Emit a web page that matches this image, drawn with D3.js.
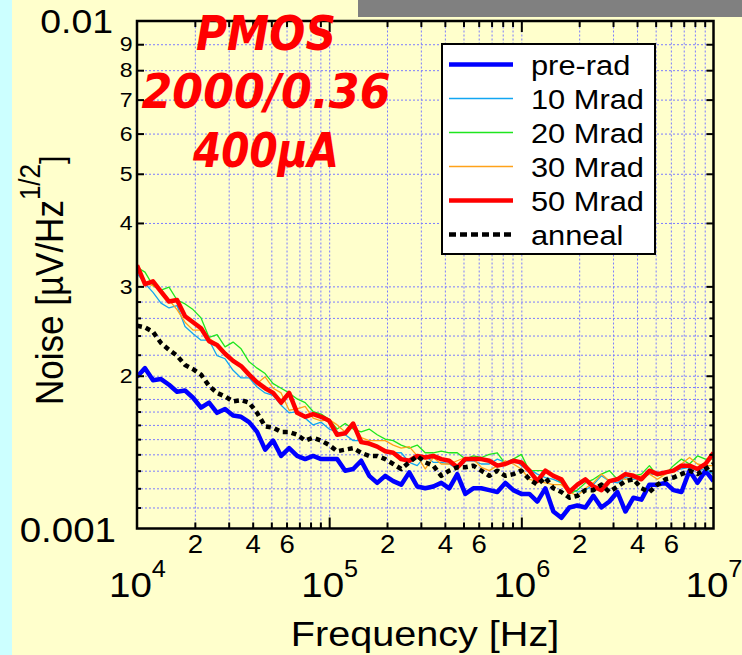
<!DOCTYPE html>
<html>
<head>
<meta charset="utf-8">
<script src="https://cdn.jsdelivr.net/npm/d3@7"></script>
<style>
  body { margin: 0; background: #ffffcc; }
  svg { display: block; font-family: Arial, "Liberation Sans", Helvetica, sans-serif; }
</style>
</head>
<body>
<svg id="chart" width="742" height="655"></svg>
<script>
// Measurement frequencies [Hz]
const frequency = [
  10000, 11007, 12115, 13335, 14678, 16156, 17783, 19573, 21544, 23714, 26102, 28730,
  31623, 34807, 38312, 42170, 46416, 51090, 56234, 61897, 68129, 74989, 82540, 90852,
  100000, 110070, 121150, 133350, 146780, 161560, 177830, 195730, 215440, 237140, 261020, 287300,
  316230, 348070, 383120, 421700, 464160, 510900, 562340, 618970, 681290, 749890, 825400, 908520,
  1000000, 1100700, 1211500, 1333500, 1467800, 1615600, 1778300, 1957300, 2154400, 2371400, 2610200, 2873000,
  3162300, 3480700, 3831200, 4217000, 4641600, 5109000, 5623400, 6189700, 6812900, 7498900, 8254000, 9085200,
  10000000
];

// Input-referred noise for each dose step
const preRad = [
  0.00199,0.00207,0.00196,0.00197,0.00192,0.00186,0.00187,0.00181,0.00173,0.00177,
  0.00169,0.00172,0.00167,0.00166,0.00162,0.00155,0.00143,0.00149,0.00139,0.00144,
  0.00139,0.00137,0.00139,0.00137,0.00137,0.00137,0.00130,0.00131,0.00136,0.00127,
  0.00123,0.00127,0.00124,0.00122,0.00129,0.00121,0.00120,0.00121,0.00123,0.00120,
  0.00128,0.00117,0.00120,0.00120,0.00119,0.00118,0.00123,0.00119,0.00117,0.00117,
  0.00113,0.00120,0.00108,0.00105,0.00110,0.00111,0.00110,0.00116,0.00110,0.00113,
  0.00118,0.00108,0.00115,0.00114,0.00122,0.00122,0.00123,0.00119,0.00118,0.00130,
  0.00123,0.00130,0.00124
];
const mrad10 = [
  0.00318,0.00304,0.00292,0.00278,0.00272,0.00275,0.00250,0.00242,0.00235,0.00235,
  0.00219,0.00216,0.00205,0.00198,0.00198,0.00190,0.00185,0.00183,0.00175,0.00169,
  0.00170,0.00165,0.00160,0.00162,0.00157,0.00155,0.00153,0.00149,0.00149,0.00146,
  0.00145,0.00143,0.00141,0.00141,0.00135,0.00133,0.00139,0.00135,0.00135,0.00134,
  0.00131,0.00136,0.00136,0.00134,0.00134,0.00137,0.00135,0.00137,0.00133,0.00131,
  0.00128,0.00126,0.00125,0.00123,0.00120,0.00118,0.00119,0.00122,0.00127,0.00124,
  0.00123,0.00126,0.00125,0.00126,0.00128,0.00128,0.00129,0.00130,0.00131,0.00132,
  0.00130,0.00131,0.00128
];
const mrad20 = [
  0.00327,0.00320,0.00301,0.00295,0.00299,0.00282,0.00277,0.00270,0.00260,0.00238,
  0.00241,0.00228,0.00233,0.00226,0.00213,0.00207,0.00202,0.00193,0.00189,0.00185,
  0.00180,0.00177,0.00170,0.00168,0.00164,0.00157,0.00161,0.00157,0.00155,0.00157,
  0.00153,0.00150,0.00149,0.00146,0.00144,0.00146,0.00141,0.00141,0.00142,0.00141,
  0.00141,0.00137,0.00139,0.00138,0.00140,0.00141,0.00134,0.00137,0.00140,0.00130,
  0.00130,0.00130,0.00127,0.00123,0.00117,0.00119,0.00123,0.00125,0.00128,0.00130,
  0.00125,0.00127,0.00127,0.00128,0.00133,0.00127,0.00128,0.00133,0.00137,0.00134,
  0.00139,0.00137,0.00137
];
const mrad30 = [
  0.00326,0.00304,0.00301,0.00296,0.00282,0.00270,0.00255,0.00246,0.00246,0.00237,
  0.00231,0.00221,0.00215,0.00209,0.00203,0.00193,0.00199,0.00189,0.00185,0.00171,
  0.00172,0.00174,0.00165,0.00163,0.00164,0.00160,0.00155,0.00160,0.00151,0.00149,
  0.00149,0.00149,0.00146,0.00144,0.00145,0.00139,0.00131,0.00138,0.00134,0.00134,
  0.00136,0.00138,0.00137,0.00132,0.00130,0.00133,0.00136,0.00134,0.00131,0.00125,
  0.00124,0.00123,0.00122,0.00122,0.00118,0.00116,0.00120,0.00123,0.00128,0.00124,
  0.00126,0.00125,0.00126,0.00127,0.00128,0.00125,0.00128,0.00131,0.00134,0.00138,
  0.00134,0.00133,0.00133
];
const mrad50 = [
  0.00330,0.00303,0.00307,0.00293,0.00280,0.00282,0.00262,0.00255,0.00248,0.00234,
  0.00230,0.00221,0.00214,0.00209,0.00201,0.00194,0.00189,0.00185,0.00177,0.00185,
  0.00169,0.00166,0.00168,0.00166,0.00163,0.00153,0.00154,0.00161,0.00148,0.00147,
  0.00145,0.00142,0.00141,0.00137,0.00136,0.00139,0.00138,0.00139,0.00137,0.00136,
  0.00132,0.00137,0.00137,0.00137,0.00136,0.00133,0.00134,0.00136,0.00135,0.00130,
  0.00124,0.00130,0.00127,0.00125,0.00118,0.00122,0.00125,0.00121,0.00119,0.00124,
  0.00125,0.00128,0.00127,0.00125,0.00130,0.00128,0.00129,0.00130,0.00133,0.00133,
  0.00131,0.00134,0.00141
];
const anneal = [
  0.00251,0.00249,0.00244,0.00232,0.00225,0.00219,0.00210,0.00206,0.00201,0.00191,
  0.00185,0.00182,0.00178,0.00179,0.00177,0.00169,0.00159,0.00158,0.00155,0.00155,
  0.00153,0.00149,0.00151,0.00149,0.00146,0.00142,0.00143,0.00144,0.00141,0.00139,
  0.00139,0.00137,0.00134,0.00131,0.00135,0.00139,0.00135,0.00133,0.00127,0.00130,
  0.00132,0.00132,0.00133,0.00130,0.00127,0.00130,0.00127,0.00128,0.00130,0.00125,
  0.00122,0.00126,0.00120,0.00118,0.00115,0.00116,0.00119,0.00119,0.00122,0.00118,
  0.00121,0.00124,0.00125,0.00120,0.00118,0.00122,0.00125,0.00126,0.00128,0.00130,
  0.00128,0.00131,0.00134
];

const seriesNames = ["pre-rad", "10 Mrad", "20 Mrad", "30 Mrad", "50 Mrad", "anneal"];

// Axis ticks and labels
const xDecades = [1e4, 1e5, 1e6, 1e7];
const xDecadeExponents = ["4", "5", "6", "7"];
const xTickMantissas = [2, 3, 4, 5, 6, 7, 8, 9];
const xLabeledMantissas = [2, 4, 6];
const yIntMantissas = [2, 3, 4, 5, 6, 7, 8, 9];
const yFineMantissas = [1.1, 1.2, 1.3, 1.4, 1.5, 1.6, 1.7, 1.8, 1.9, 2.2, 2.4, 2.6, 2.8];
const yEndLabels = ["0.001", "0.01"];
const noteLines = ["PMOS", "2000/0.36", "400µA"];

// ---- drawing ----
const W = 742, H = 655;
const plot = { left: 137, right: 713.5, top: 21, bottom: 528.5 };
const SX = 1.1; // horizontal stretch of the lettering

const series = [
  { name: seriesNames[0], values: preRad, color: "#0000ff", width: 4.5, dash: null },
  { name: seriesNames[1], values: mrad10, color: "#12a6f2", width: 1.3, dash: null },
  { name: seriesNames[2], values: mrad20, color: "#1ee61e", width: 1.3, dash: null },
  { name: seriesNames[3], values: mrad30, color: "#ffa21a", width: 1.3, dash: null },
  { name: seriesNames[4], values: mrad50, color: "#ff0000", width: 4.5, dash: null },
  { name: seriesNames[5], values: anneal, color: "#000000", width: 4.5, dash: "5,4" }
];

const svg = d3.select("#chart");
svg.append("rect").attr("width", W).attr("height", H).attr("fill", "#ffffcc");
svg.append("rect").attr("width", 12).attr("height", H).attr("fill", "#ccffff");
svg.append("rect").attr("x", 358).attr("y", 0).attr("width", W - 358).attr("height", 17).attr("fill", "#808080");

const x = d3.scaleLog().domain([1e4, 1e7]).range([plot.left, plot.right]);
const y = d3.scaleLog().domain([1e-3, 1e-2]).range([plot.bottom, plot.top]);

const mantissa = d => Math.round(d / Math.pow(10, Math.floor(Math.log10(d) + 1e-9)) * 10) / 10;
const xMinor = xDecades.slice(0, 3).flatMap(dec => xTickMantissas.map(m => m * dec));
const xInnerMajor = xDecades.slice(1, 3);
const yInt = yIntMantissas.map(m => m * 1e-3);
const yFine = yFineMantissas.map(m => m * 1e-3);

// dashed grid
const grid = svg.append("g");
grid.append("g").attr("transform", `translate(0,${plot.bottom})`)
  .call(d3.axisBottom(x).tickValues([...xMinor, ...xInnerMajor])
    .tickSize(-(plot.bottom - plot.top)).tickFormat(""));
grid.append("g").attr("transform", `translate(${plot.left},0)`)
  .call(d3.axisLeft(y).tickValues([...yFine, ...yInt])
    .tickSize(-(plot.right - plot.left)).tickFormat(""));
grid.selectAll(".domain").remove();
grid.selectAll("line")
  .attr("stroke", "#7b7bff").attr("stroke-width", 1).attr("stroke-dasharray", "2,2");

// data curves
svg.append("clipPath").attr("id", "plotClip").append("rect")
  .attr("x", plot.left).attr("y", plot.top)
  .attr("width", plot.right - plot.left).attr("height", plot.bottom - plot.top);
const line = d3.line().x((d, i) => x(frequency[i])).y(d => y(d));
svg.append("g").attr("clip-path", "url(#plotClip)")
  .selectAll("path").data(series).join("path")
  .attr("d", s => line(s.values))
  .attr("fill", "none")
  .attr("stroke", s => s.color)
  .attr("stroke-width", s => s.width)
  .attr("stroke-linejoin", "round")
  .attr("stroke-dasharray", s => s.dash);

// frame
svg.append("rect")
  .attr("x", plot.left).attr("y", plot.top)
  .attr("width", plot.right - plot.left).attr("height", plot.bottom - plot.top)
  .attr("fill", "none").attr("stroke", "#000").attr("stroke-width", 2.5);

function styleAxis(g, size) {
  g.select(".domain").remove();
  g.attr("font-family", null).attr("font-size", size);
  g.selectAll("line").attr("stroke", "#000").attr("stroke-width", 2);
  g.selectAll("text").attr("fill", "#000").attr("transform", `scale(${SX},1)`);
  return g;
}

// bottom axis
svg.append("g").attr("transform", `translate(0,${plot.bottom})`)
  .call(d3.axisBottom(x).tickValues(xMinor).tickSizeInner(-6).tickSizeOuter(0).tickPadding(7)
    .tickFormat(d => xLabeledMantissas.includes(mantissa(d)) ? String(mantissa(d)) : ""))
  .call(g => styleAxis(g, 25));
svg.append("g").attr("transform", `translate(0,${plot.bottom})`)
  .call(d3.axisBottom(x).tickValues(xInnerMajor).tickSizeInner(-11).tickSizeOuter(0).tickFormat(""))
  .call(g => styleAxis(g, 25));
const decadeAxis = svg.append("g").attr("transform", `translate(0,${plot.bottom})`)
  .call(d3.axisBottom(x).tickValues(xDecades).tickSize(0).tickPadding(44).tickFormat(""))
  .call(g => styleAxis(g, 35));
decadeAxis.selectAll("text").each(function (d, i) {
  const t = d3.select(this);
  t.append("tspan").text("10");
  t.append("tspan").attr("dy", -20).attr("font-size", 23).text(xDecadeExponents[i]);
});

// top axis
svg.append("g").attr("transform", `translate(0,${plot.top})`)
  .call(d3.axisTop(x).tickValues(xMinor).tickSizeInner(-6).tickSizeOuter(0).tickFormat(""))
  .call(g => styleAxis(g, 20));
svg.append("g").attr("transform", `translate(0,${plot.top})`)
  .call(d3.axisTop(x).tickValues(xInnerMajor).tickSizeInner(-11).tickSizeOuter(0).tickFormat(""))
  .call(g => styleAxis(g, 20));

// left axis
svg.append("g").attr("transform", `translate(${plot.left},0)`)
  .call(d3.axisLeft(y).tickValues(yInt).tickSizeInner(-7).tickSizeOuter(0).tickPadding(4)
    .tickFormat(d => String(Math.round(d * 1e3))))
  .call(g => styleAxis(g, 21));
svg.append("g").attr("transform", `translate(${plot.left},0)`)
  .call(d3.axisLeft(y).tickValues(yFine).tickSizeInner(-4).tickSizeOuter(0).tickFormat(""))
  .call(g => styleAxis(g, 21));

// right axis
svg.append("g").attr("transform", `translate(${plot.right},0)`)
  .call(d3.axisRight(y).tickValues(yInt).tickSizeInner(-7).tickSizeOuter(0).tickFormat(""))
  .call(g => styleAxis(g, 21));
svg.append("g").attr("transform", `translate(${plot.right},0)`)
  .call(d3.axisRight(y).tickValues(yFine).tickSizeInner(-4).tickSizeOuter(0).tickFormat(""))
  .call(g => styleAxis(g, 21));

// decade labels of the noise axis
svg.append("text").attr("transform", `translate(116,${y(1e-3) + 13}) scale(${SX},1)`)
  .attr("text-anchor", "end").attr("font-size", 35).text(yEndLabels[0]);
svg.append("text").attr("transform", `translate(113,${y(1e-2) + 12}) scale(${SX},1)`)
  .attr("text-anchor", "end").attr("font-size", 34).text(yEndLabels[1]);

// axis titles
svg.append("text").attr("transform", `translate(425,646) scale(${SX},1)`)
  .attr("text-anchor", "middle").attr("font-size", 36).text("Frequency [Hz]");
const yTitle = svg.append("text")
  .attr("transform", `translate(63,405) scale(${SX},1) rotate(-90)`)
  .attr("font-size", 35);
yTitle.append("tspan").text("Noise [µV/Hz");
yTitle.append("tspan").attr("dy", -21).attr("font-size", 26).text("1/2");
yTitle.append("tspan").attr("dy", 21).attr("font-size", 30).text("]");

// legend
const legend = svg.append("g");
legend.append("rect").attr("x", 442).attr("y", 44).attr("width", 213).attr("height", 210)
  .attr("fill", "#fff").attr("stroke", "#000").attr("stroke-width", 2);
const rows = legend.selectAll("g.row").data(series).join("g")
  .attr("transform", (s, i) => `translate(0,${64.5 + i * 34})`);
rows.append("line").attr("x1", 449).attr("x2", 513)
  .attr("stroke", s => s.color).attr("stroke-width", s => s.width)
  .attr("stroke-dasharray", s => s.dash ? "7,4" : null);
rows.append("text").attr("transform", `translate(531,10) scale(${SX},1)`)
  .attr("font-size", 28).text(s => s.name);

// device annotation
const noteWidths = [140, 249, 146];
const noteBase = [50, 108, 167];
svg.append("g").selectAll("text").data(noteLines).join("text")
  .attr("x", 266).attr("y", (d, i) => noteBase[i])
  .attr("text-anchor", "middle")
  .attr("font-family", "'DejaVu Sans', sans-serif")
  .attr("font-weight", "bold").attr("font-style", "oblique")
  .attr("font-size", 48).attr("fill", "#ff0000")
  .attr("textLength", (d, i) => noteWidths[i]).attr("lengthAdjust", "spacingAndGlyphs")
  .text(d => d);
</script>
</body>
</html>
